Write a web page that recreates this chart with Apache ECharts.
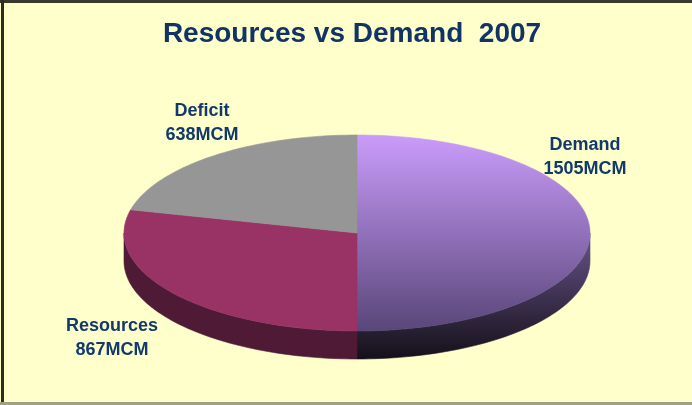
<!DOCTYPE html>
<html>
<head>
<meta charset="utf-8">
<script src="https://cdn.jsdelivr.net/npm/echarts@6/dist/echarts.min.js"></script>
<style>
  html, body { margin: 0; padding: 0; background: #ffffcc; }
  #chart { width: 692px; height: 405px; }
</style>
</head>
<body>
<div id="chart"></div>
<script>
const categories = ['Demand', 'Resources', 'Deficit']
const values = [1505, 867, 638]
const unit = 'MCM'

// top face / side colours per slice
const topColors = [
  new echarts.graphic.LinearGradient(0, 0, 0, 1, [
    { offset: 0, color: '#ca9cfb' },
    { offset: 1, color: '#594679' }
  ]),
  '#993366',
  '#969696'
]
const sideColors = [
  new echarts.graphic.LinearGradient(0, 0, 0, 1, [
    { offset: 0, color: '#68548a' },
    { offset: 1, color: '#141019' }
  ]),
  '#4e1a35',
  '#4b4b4b'
]
const labelSpots = [[585, 157], [112, 338], [202, 123]]

// pseudo 3d pie geometry
const cx = 357, cy = 233, rx = 233, ry = 98, depth = 28

const total = values.reduce((a, b) => a + b, 0)
const ranges = []
let acc = 0
values.forEach(v => {
  const a1 = 90 - 360 * acc / total
  acc += v
  const a2 = 90 - 360 * acc / total
  ranges.push([a1, a2])
})

const pt = (deg, dy) => {
  const r = deg * Math.PI / 180
  return [cx + rx * Math.cos(r), cy - ry * Math.sin(r) + (dy || 0)]
}
const arc = (from, to, dy) => {
  const pts = []
  const n = Math.max(2, Math.ceil(Math.abs(from - to) / 1.5))
  for (let k = 0; k <= n; k++) pts.push(pt(from + (to - from) * k / n, dy))
  return pts
}

const renderItem = (params, api) => {
  const i = params.dataIndex
  const [a1, a2] = ranges[i]
  const children = []
  // visible front wall: angles between -180 and 0
  const f1 = Math.min(a1, 0), f2 = Math.max(a2, -180)
  if (f1 > f2) {
    const pts = arc(f1, f2, 0).concat(arc(f2, f1, depth))
    children.push({
      type: 'polygon',
      shape: { points: pts },
      style: { fill: sideColors[i], stroke: sideColors[i], lineWidth: 0.6 }
    })
  }
  children.push({
    type: 'polygon',
    shape: { points: [[cx, cy]].concat(arc(a1, a2, 0)) },
    style: { fill: topColors[i], stroke: topColors[i], lineWidth: 0.6 }
  })
  return { type: 'group', children: children }
}

const chart = echarts.init(document.getElementById('chart'))
chart.setOption({
  backgroundColor: '#ffffcc',
  animation: false,
  title: {
    text: 'Resources vs Demand  2007',
    left: 347,
    textAlign: 'center',
    top: 15,
    textStyle: { fontFamily: 'Arial, Liberation Sans', fontWeight: 'bold', fontSize: 28, color: '#0f3465' }
  },
  graphic: [
    { type: 'rect', shape: { x: 0, y: 0, width: 692, height: 3 }, style: { fill: '#3a3a2c' } },
    { type: 'rect', shape: { x: 1, y: 0, width: 3, height: 405 }, style: { fill: '#2c2c20' } },
    { type: 'rect', shape: { x: 0, y: 402, width: 692, height: 3 }, style: { fill: '#a0a082' } }
  ].concat(categories.map((c, i) => ({
    type: 'text',
    x: labelSpots[i][0],
    y: labelSpots[i][1],
    style: {
      text: c + '\n' + values[i] + unit,
      align: 'center',
      verticalAlign: 'middle',
      lineHeight: 24,
      font: 'bold 18px Arial, "Liberation Sans"',
      fill: '#113a6b'
    }
  }))),
  series: [{
    type: 'custom',
    coordinateSystem: 'none',
    renderItem: renderItem,
    data: values.map((v, i) => ({ name: categories[i], value: v }))
  }]
})
</script>
</body>
</html>
